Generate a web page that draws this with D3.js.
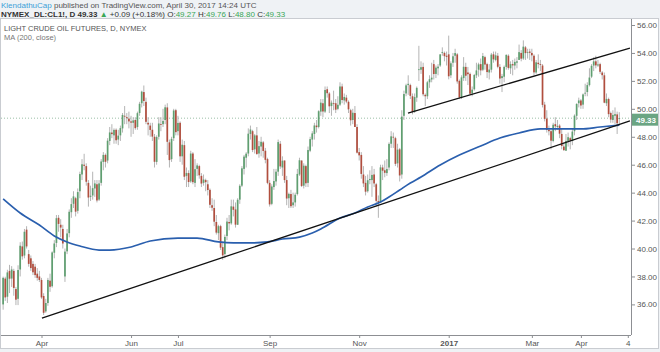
<!DOCTYPE html>
<html><head><meta charset="utf-8">
<script src="https://cdn.jsdelivr.net/npm/d3@7"></script>
<style>
body{margin:0;background:#eff2f5;}
svg{display:block;font-family:"Liberation Sans",Arial,sans-serif;}
</style>
</head><body>
<svg id="c" width="660" height="352"></svg>
<script>
// ---- trading calendar (categories) ----
const firstDay = "2016-03-07";
const holidays = ["2016-03-25","2016-05-30","2016-07-04","2016-09-05","2016-11-24","2016-12-26","2017-01-02","2017-01-16","2017-02-20","2017-04-14"];

// ---- daily OHLC (CL1!) ----
const opens = [
36.00,37.85,36.55,38.40,37.85, 38.40,37.10,36.40,38.50,40.15, 39.50,41.35,39.60,39.30, 38.90,38.70,38.20,38.00,37.75,
36.60,35.50,36.10,37.70,37.30, 39.70,40.40,42.20,41.70,41.40, 38.00,39.80,41.10,42.60,43.20, 43.60,42.70,44.10,45.30,46.00,
45.90,44.70,43.70,43.80,44.30, 44.60,43.50,44.70,46.20,46.70, 46.30,47.70,48.30,48.10,48.50, 47.80,48.10,48.60,49.50,49.40,
49.30,49.10,49.00,49.20, 48.70,49.70,50.40,51.20,50.50, 49.00,48.80,48.50,48.00,46.20, 48.00,48.90,48.90,49.20,50.10,
47.60,46.40,47.90,49.90,48.40, 49.00,46.60,47.40,45.20, 45.40,44.80,46.80,44.70,45.70, 45.90,45.20,44.70,44.90,44.60,
44.20,43.10,42.90,41.90,41.10, 41.60,40.10,39.60,40.90,41.90, 41.80,43.00,42.80,41.70,43.50, 44.50,45.70,46.50,46.80,48.20,
48.40,47.10,48.10,46.80,47.30, 47.60,47.00,46.40,44.70,43.20, 44.40,44.80,45.50,47.50, 45.80,46.30,44.90,43.60,43.90,
43.10,43.30,43.90,45.30,46.30, 44.50,45.90,44.70,47.00,47.80, 48.20,48.80,48.70,49.80,50.40, 49.80,51.40,51.10,50.20,50.40,
50.40,50.00,50.30,51.60,50.60, 50.80,50.50,49.90,49.20,49.70, 48.70,46.90,46.70,45.30,44.70, 44.10,44.90,44.90,45.30,44.60,
43.40,43.30,45.80,45.60,45.40, 45.80,47.50,48.00,47.90, 46.10,47.10,45.30,49.50,51.10, 51.70,51.70,50.90,49.80,50.80,
52.80,52.80,53.00,51.00,50.90, 51.90,52.10,53.20,52.50,52.90, 53.10,54.00,54.00,53.80, 53.90,52.40,53.30,53.80,
53.90,52.00,50.80,52.20,53.00, 52.60,52.50,51.10,51.40, 52.40,52.80,53.20,52.80,53.70, 53.20,52.60,52.80,53.90,53.50,
53.80,53.00,52.20,52.30,53.00, 53.80,52.90,53.20,53.10,53.30, 53.50,54.00,53.60,54.40, 54.00,54.10,54.00,53.80,52.60,
53.30,53.20,53.10,50.30,49.30, 48.50,48.40,47.70,48.90,48.70, 48.80,48.20,47.30,47.00,47.70, 47.90,47.70,48.40,49.50,50.40,
50.60,50.30,51.10,51.20,51.70, 52.30,53.10,53.40,53.10, 53.20,52.60,52.40,50.40,50.70, 49.70,49.20,49.50,49.60,49.27
];
const highs = [
37.99,37.98,38.48,38.83,38.74, 38.55,37.25,38.80,40.45,40.50, 41.40,41.60,39.90,39.50, 39.10,38.90,38.60,38.40,37.90,
36.80,36.40,37.90,38.20,39.80, 40.60,42.40,42.40,42.10,41.70, 40.00,41.40,42.80,43.60,44.10, 43.70,44.30,45.50,46.40,46.78,
46.10,44.90,44.50,45.50,44.90, 44.90,44.90,46.40,46.90,46.80, 47.90,48.70,48.90,48.60,48.60, 48.50,48.80,49.70,50.20,49.70,
49.80,49.50,49.40,49.40, 49.80,50.50,51.30,51.67,50.80, 49.40,49.00,49.00,48.20,48.10, 49.40,49.40,50.00,50.30,50.40,
47.80,48.00,50.00,50.00,49.50, 49.10,47.80,47.70,45.80, 45.60,47.00,46.90,46.40,46.10, 46.00,45.40,45.30,45.00,44.90,
44.30,43.60,43.50,42.40,41.70, 41.70,40.50,41.00,42.20,42.40, 43.50,43.50,43.30,43.60,44.60, 45.90,46.70,46.90,48.60,48.80,
48.50,48.20,48.70,47.70,48.00, 47.70,47.20,46.50,44.90,44.60, 45.70,45.70,47.80,47.70, 46.60,46.30,45.20,44.00,44.20,
44.00,44.00,45.70,46.50,46.30, 46.10,46.00,47.30,48.00,48.40, 49.00,49.20,49.90,50.70,50.70, 51.60,51.60,51.20,50.60,51.30,
50.70,50.90,51.90,51.80,51.10, 51.00,50.60,50.00,50.00,50.20, 48.90,47.20,46.90,45.90,45.20, 45.30,45.60,45.90,45.70,44.70,
43.80,46.00,46.00,46.30,46.40, 47.60,48.40,48.30,48.00, 47.50,47.20,49.90,51.30,51.80, 52.40,51.80,51.10,51.10,51.60,
54.51,53.40,53.30,51.10,52.00, 52.40,53.30,53.50,53.10,53.20, 53.90,54.40,54.10,54.10, 55.24,53.40,54.00,54.30,
54.00,52.10,52.40,53.70,53.30, 53.00,52.60,51.60,52.50, 53.30,53.30,53.60,54.00,53.80, 53.30,53.20,54.00,54.10,54.10,
54.00,53.20,52.50,53.10,53.90, 53.90,53.40,53.50,53.60,53.70, 54.60,54.20,54.90,54.50, 54.30,54.30,54.30,53.90,53.50,
53.90,53.50,53.20,50.50,49.90, 48.80,48.50,49.00,49.40,49.20, 48.90,48.60,47.60,48.20,48.30, 48.00,48.60,49.60,50.40,50.80,
50.70,51.10,51.80,51.90,52.90, 53.20,53.70,53.80,53.50, 53.30,52.70,52.60,51.10,50.80, 49.80,49.90,50.10,49.80,49.76
];
const lows = [
35.62,36.25,36.10,36.81,37.25, 36.62,35.95,35.95,38.00,39.20, 39.30,40.00,38.70,38.40, 38.10,37.90,37.70,37.60,36.40,
35.24,35.40,35.90,36.90,37.20, 39.30,40.10,41.20,40.80,40.00, 37.61,39.60,40.80,42.20,42.90, 42.30,42.50,43.60,44.90,45.60,
44.50,43.00,43.40,43.50,43.70, 43.30,43.40,44.50,45.60,45.80, 46.10,47.40,47.90,47.50,47.50, 47.40,47.70,48.30,48.90,48.90,
48.60,48.00,48.20,48.50, 48.50,49.50,50.10,50.20,48.90, 48.10,48.00,47.70,45.80,46.00, 47.80,48.40,48.70,48.90,46.70,
45.80,46.20,47.70,48.10,48.10, 46.20,46.00,44.90,44.40, 44.40,44.70,44.60,44.40,45.20, 45.00,44.40,44.50,44.10,43.80,
42.90,42.70,41.60,41.00,40.60, 39.90,39.19,39.30,40.60,41.30, 41.70,42.30,41.50,41.70,43.20, 44.40,45.30,45.80,46.60,47.80,
46.90,46.80,46.70,46.50,46.60, 46.50,46.10,44.60,43.00,43.10, 44.20,44.50,45.20,45.70, 45.20,44.70,43.10,42.90,42.90,
42.90,43.00,43.80,45.20,44.40, 44.30,44.40,44.40,46.90,47.30, 47.80,48.30,48.60,49.50,49.40, 49.70,50.80,49.70,49.50,49.90,
49.70,49.90,50.20,50.40,50.30, 50.40,49.70,48.80,48.90,48.70, 46.80,46.30,45.00,44.40,43.80, 44.00,44.60,43.70,44.40,43.00,
42.20,43.30,44.90,45.10,45.20, 45.60,47.20,47.20,45.90, 45.80,44.80,45.00,49.20,50.90, 51.00,50.70,49.60,49.70,50.50,
52.00,52.50,50.90,50.20,50.70, 51.50,51.90,52.10,52.20,52.40, 53.00,53.80,53.40,53.10, 52.11,52.20,53.00,53.30,
51.80,50.70,50.70,52.00,52.00, 51.70,51.00,50.90,51.30, 52.20,52.30,52.40,52.70,52.80, 52.20,52.10,52.60,53.30,53.40,
52.90,51.80,51.20,51.90,52.80, 52.80,52.50,52.40,52.80,52.90, 53.50,53.40,53.50,53.50, 53.60,53.50,53.40,52.40,52.50,
52.90,52.70,50.10,49.10,48.30, 48.10,47.10,47.60,48.40,48.50, 47.90,47.10,47.00,47.00,47.30, 47.10,47.40,48.10,49.20,50.10,
50.00,50.00,50.90,50.90,51.60, 52.20,52.70,52.90,53.00, 52.50,52.10,50.40,50.20,49.40, 49.00,49.00,48.90,48.20,48.80
];
const closes = [
37.90,36.50,38.29,37.84,38.50, 37.18,36.34,38.46,40.20,39.44, 41.20,40.15,38.90,38.60, 38.30,38.10,37.90,37.75,36.50,
35.40,36.10,37.75,37.26,39.72, 40.36,42.17,41.76,41.50,40.36, 39.78,41.08,42.63,43.18,43.73, 42.64,44.04,45.33,46.03,45.92,
44.78,43.65,43.78,44.32,44.66, 43.44,44.66,46.23,46.70,46.21, 47.72,48.31,48.19,48.49,47.75, 48.08,48.62,49.56,49.48,49.33,
49.10,49.01,49.17,48.62, 49.69,50.36,51.23,50.56,49.07, 48.88,48.49,48.01,46.21,47.98, 48.95,48.85,49.13,50.11,47.64,
46.33,47.85,49.88,48.33,48.99, 46.60,47.43,45.14,45.41, 44.76,46.80,44.75,45.68,45.95, 45.24,44.65,44.94,44.75,44.19,
43.13,42.92,41.92,41.14,41.60, 40.06,39.51,40.83,41.93,41.80, 43.02,42.77,41.71,43.49,44.49, 45.74,46.58,46.79,48.22,48.52,
47.05,48.10,46.77,47.33,47.64, 46.98,46.35,44.70,43.16,44.44, 44.83,45.50,47.62,45.88, 46.29,44.90,43.58,43.91,43.03,
43.30,43.85,45.34,46.32,44.48, 45.93,44.67,47.05,47.83,48.24, 48.81,48.69,49.83,50.44,49.81, 51.35,51.12,50.18,50.44,50.35,
49.94,50.29,51.60,50.63,50.85, 50.52,49.96,49.18,49.72,48.70, 46.86,46.67,45.34,44.66,44.07, 44.89,44.98,45.27,44.66,43.41,
43.32,45.81,45.57,45.42,45.69, 47.49,48.03,47.96,46.06, 47.08,45.23,49.44,51.06,51.68, 51.79,50.93,49.77,50.84,51.50,
52.83,52.98,51.04,50.90,51.90, 52.12,52.23,52.49,52.95,53.02, 53.90,54.06,53.77,53.72, 52.33,53.26,53.76,53.99,
51.96,50.82,52.25,53.01,52.37, 52.48,51.08,51.37,52.42, 52.75,53.18,52.75,53.78,53.17, 52.63,52.81,53.88,53.54,53.83,
53.01,52.17,52.34,53.00,53.86, 52.93,53.20,53.11,53.36,53.40, 54.06,53.59,54.45,53.99, 54.05,54.01,53.83,52.61,53.33,
53.20,53.14,50.28,49.28,48.49, 48.40,47.72,48.86,48.75,48.78, 48.22,47.34,47.04,47.70,47.97, 47.73,48.37,49.51,50.35,50.60,
50.24,51.03,51.15,51.70,52.24, 53.08,53.40,53.11,53.18, 52.65,52.41,50.44,50.71,49.62, 49.23,49.56,49.62,48.97,49.33
];

// ---- MA(200, close) at these bars ----
const maBars   = [0,8,17,24,30,36,45,50,60,69,82,91,101,108,116,124,131,139,145,149,158,165,171,177,181,186,191,196,205,214,224,233,242,252,261,271,280,289];
const maValues = [43.55,42.54,41.68,40.90,40.47,40.18,39.89,39.89,40.11,40.54,40.75,40.75,40.47,40.40,40.40,40.47,40.68,40.82,41.11,41.40,42.18,42.54,42.97,43.33,43.69,44.19,44.69,45.12,45.98,46.69,47.34,47.91,48.27,48.56,48.56,48.56,48.70,48.84];

// ---- hand-drawn trend lines (bar position, price) ----
const trendStartBar = [18.2, 189.9];
const trendStartPrice = [35.02, 49.70];
const trendEndBar = [294.0, 294.0];
const trendEndPrice = [49.13, 54.35];

// ---- axis ticks ----
const yTicks = [36,38,40,42,44,46,48,50,52,54,56];
const xTickDates = ["2016-04-01","2016-06-01","2016-07-01","2016-09-01","2016-11-01","2017-01-03","2017-03-01","2017-04-03","2017-05-04"];
const xTickLabels = ["Apr","Jun","Jul","Sep","Nov","2017","Mar","Apr","4"];

const lastPrice = 49.33;

// ---------------------------------------------------------
const parse = d3.utcParse("%Y-%m-%d"), fmt = d3.utcFormat("%Y-%m-%d");
const hol = new Set(holidays);
const cal = d3.utcDay.range(parse(firstDay), parse("2017-05-06"))
  .filter(d => d.getUTCDay() % 6 !== 0 && !hol.has(fmt(d)));
const idxOf = s => cal.findIndex(d => fmt(d) === s);

const W = 660, H = 352;
const PL = 1, PR = 631, PT = 19, PB = 335;
const x = d3.scaleLinear().domain([-1, 294.5]).range([PL, PR]);
const y = d3.scaleLinear().domain([33.81, 56.43]).range([PB, PT]);

const svg = d3.select("#c");
const UP = "#5f9f70", DOWN = "#b14e3e", WICK = "#b4b4b4";

// frame
svg.append("rect").attr("x",0.5).attr("y",18.5).attr("width",658).attr("height",330)
  .attr("fill","#fff").attr("stroke","#c9ccd1");

// header
const h1 = svg.append("text").attr("x",1).attr("y",8).attr("font-size",8).attr("fill","#555");
h1.append("tspan").attr("fill","#3c9fd8").text("KlendathuCap");
h1.append("tspan").text(" published on TradingView.com, April 30, 2017 14:24 UTC");
const h2 = svg.append("text").attr("x",1).attr("y",16.5).attr("font-size",8).attr("fill","#333");
h2.append("tspan").attr("font-weight","bold").text("NYMEX_DL:CL1!, D 49.33 ");
h2.append("tspan").attr("fill","#3aa655").text("▲");
h2.append("tspan").text(" +0.09 (+0.18%) O:");
h2.append("tspan").attr("fill","#3aa655").text("49.27");
h2.append("tspan").text(" H:");
h2.append("tspan").attr("fill","#3aa655").text("49.76");
h2.append("tspan").text(" L:");
h2.append("tspan").attr("fill","#3aa655").text("48.80");
h2.append("tspan").text(" C:");
h2.append("tspan").attr("fill","#3aa655").text("49.33");

svg.append("text").attr("x",4).attr("y",31).attr("font-size",7.5).attr("fill","#555")
  .text("LIGHT CRUDE OIL FUTURES, D, NYMEX");
svg.append("text").attr("x",4).attr("y",40).attr("font-size",7.5).attr("fill","#777")
  .text("MA (200, close)");

// clip
svg.append("clipPath").attr("id","clip").append("rect")
  .attr("x",PL).attr("y",PT).attr("width",PR-PL).attr("height",PB-PT);
const g = svg.append("g").attr("clip-path","url(#clip)");

// last price dotted line
g.append("line").attr("x1",PL).attr("x2",PR).attr("y1",y(lastPrice)).attr("y2",y(lastPrice))
  .attr("stroke","#9bbfa6").attr("stroke-dasharray","1,2").attr("stroke-width",1);

// candles
const bars = d3.range(closes.length);
g.selectAll("line.wick").data(bars).join("line").attr("class","wick")
  .attr("x1",i=>x(i)).attr("x2",i=>x(i))
  .attr("y1",i=>y(highs[i])).attr("y2",i=>y(lows[i]))
  .attr("stroke",WICK).attr("stroke-width",1);
g.selectAll("rect.body").data(bars).join("rect").attr("class","body")
  .attr("x",i=>x(i)-0.85).attr("width",1.7)
  .attr("y",i=>y(Math.max(opens[i],closes[i])))
  .attr("height",i=>Math.max(0.8, Math.abs(y(opens[i])-y(closes[i]))))
  .attr("fill",i=>closes[i]>=opens[i]?UP:DOWN);

// MA line
const maPts = maBars.map((b,i)=>[b, maValues[i]]);
g.append("path").datum(maPts)
  .attr("d", d3.line().x(d=>x(d[0])).y(d=>y(d[1])).curve(d3.curveMonotoneX))
  .attr("fill","none").attr("stroke","#2a5fae").attr("stroke-width",1.7);

// trend lines
g.selectAll("line.trend").data(d3.range(trendStartBar.length)).join("line").attr("class","trend")
  .attr("x1",i=>x(trendStartBar[i])).attr("y1",i=>y(trendStartPrice[i]))
  .attr("x2",i=>x(trendEndBar[i])).attr("y2",i=>y(trendEndPrice[i]))
  .attr("stroke","#111").attr("stroke-width",1.3);

// y axis (right)
const ya = svg.append("g").attr("transform",`translate(${PR},0)`)
  .call(d3.axisRight(y).tickValues(yTicks).tickFormat(d3.format(".2f")).tickSize(4).tickPadding(2));
ya.select(".domain").attr("stroke","#8d8f93").attr("d",`M0.5,${PT}V${PB}`);
ya.selectAll(".tick line").attr("stroke","#8d8f93");
ya.selectAll(".tick text").attr("fill","#555").attr("font-size",8).attr("font-family","Liberation Sans, Arial, sans-serif");

// x axis
const xTickIdx = xTickDates.map(idxOf);
const xa = svg.append("g").attr("transform",`translate(0,${PB})`)
  .call(d3.axisBottom(x).tickValues(xTickIdx).tickFormat((d,i)=>xTickLabels[i]).tickSize(3).tickPadding(2));
xa.select(".domain").attr("stroke","#8d8f93").attr("d",`M${PL},0.5H${PR}`);
xa.selectAll(".tick line").attr("stroke","#8d8f93");
xa.selectAll(".tick text").attr("fill","#555").attr("font-size",8)
  .attr("font-family","Liberation Sans, Arial, sans-serif")
  .attr("font-weight",(d,i)=>xTickLabels[i]==="2017"?"bold":"normal");

// last price label
const ly = y(lastPrice) + 1.5;
svg.append("rect").attr("x",PR+1).attr("y",ly-6).attr("width",W-PR-3).attr("height",12).attr("fill","#6ba583");
svg.append("text").attr("x",PR+5).attr("y",ly+3).attr("font-size",8).attr("font-weight","bold")
  .attr("fill","#fff").text(lastPrice.toFixed(2));
</script>
</body></html>
